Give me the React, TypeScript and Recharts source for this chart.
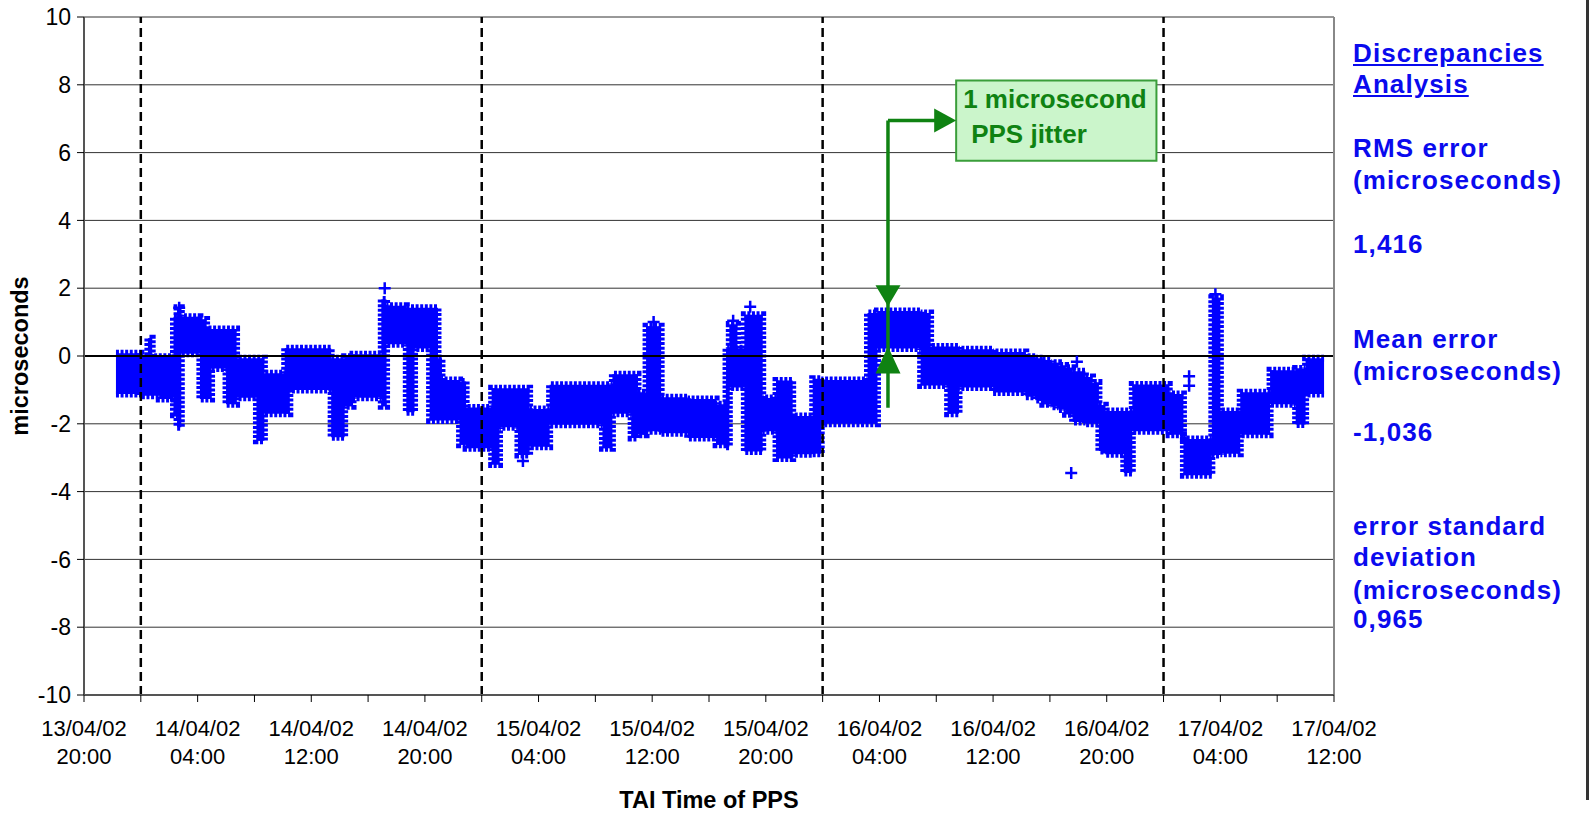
import React from 'react';
import {
  ComposedChart,
  Area,
  Scatter,
  XAxis,
  YAxis,
  CartesianGrid,
  ReferenceLine,
  ReferenceArea,
  ReferenceDot,
} from 'recharts';

const FONT = '"Liberation Sans", Arial, sans-serif';
const BLUE = '#0000ff';
const GREEN = '#0f8212';
const TEXT_BLUE = '#0a0aee';

// hours after 13/04/02 20:00, stepped band of the scatter cloud
const bandTimes = [
  2.25, 4.0, 4.5, 4.8, 5.3, 6.2, 6.3, 6.55, 6.85, 8.16, 8.63, 8.98, 10.0, 10.74, 12.14, 12.7,
  14.13, 14.49, 17.4, 18.35, 18.94, 20.93, 21.3, 22.69, 23.27, 24.33, 24.92, 25.2, 26.44, 26.9,
  28.7, 29.25, 30.55, 31.37, 32.78, 36.5, 37.2, 38.52, 39.0, 39.57, 40.63, 42.5, 44.5, 45.2,
  45.43, 46.0, 46.49, 47.78, 48.72, 49.89, 51.3, 51.9, 55.16, 55.86, 58.9, 59.6, 60.8, 61.6,
  64.0, 66.3, 67.0, 67.5, 68.1, 68.6, 69.1, 69.6, 70.5, 71.0, 71.45, 71.9, 73.2, 73.8, 76.4,
  77.4, 79.4, 80.0, 81.4, 83.5, 85.3, 86.0, 87.3,
];
const bandLows = [
  -1.12, -1.17, -1.17, -1.17, -1.27, -1.17, -1.73, -2.1, 0.07, -1.27, -1.27, -0.37, -1.42, -1.23, -2.5, -1.7,
  -1.7, -1.0, -2.4, -1.48, -1.23, -1.48, 0.35, -1.66, 0.22, -1.9, -1.9, -1.9, -2.62, -2.72,
  -3.2, -2.1, -2.92, -2.68, -2.03, -2.72, -1.7, -2.42, -2.32, -2.22, -2.28, -2.42, -2.62, -2.68,
  -0.93, -0.93, -2.82, -2.22, -3.02, -2.9, -2.88, -2.0, -2.0, 0.22, -0.87, -0.87, -1.7, -0.93,
  -1.08, -1.2, -1.3, -1.42, -1.5, -1.58, -1.72, -1.95, -2.0, -2.0, -2.8, -2.9, -3.45, -2.22, -2.32,
  -3.52, -2.92, -2.88, -2.32, -1.42, -2.02, -1.12, -1.12,
];
const bandHighs = [
  0.08, -0.02, 0.52, -0.02, -0.02, -0.02, 1.16, 1.42, 1.16, 1.08, 0.8, 0.8, 0.8, -0.07, -0.07, -0.51,
  0.23, 0.23, -0.07, -0.02, 0.05, 1.67, 1.48, 1.42, 1.42, 1.42, -0.07, -0.71, -0.75, -1.52,
  -0.95, -0.95, -0.95, -1.56, -0.85, -0.85, -0.54, -0.54, -1.07, 0.88, -1.22, -1.27, -1.42, 0.23,
  0.93, 0.23, 1.22, -1.24, -0.72, -1.77, -0.67, -0.71, 1.27, 1.33, 1.27, 0.28, 0.28, 0.2,
  0.12, -0.02, -0.07, -0.12, -0.2, -0.28, -0.35, -0.45, -0.62, -0.78, -1.45, -1.62, -1.62, -0.84, -1.12,
  -2.45, 1.72, -1.62, -1.07, -0.42, -0.37, -0.07, -0.07,
];

// isolated points standing out of the cloud
const outlierTimes = [6.7, 21.17, 30.9, 40.1, 45.7, 46.9, 69.5, 69.9, 77.8, 77.8, 79.65];
const outlierValues = [1.42, 2.0, -3.1, 1.0, 1.04, 1.45, -3.45, -0.17, -0.6, -0.88, 1.82];

const xTicks = [0, 4, 8, 12, 16, 20, 24, 28, 32, 36, 40, 44, 48, 52, 56, 60, 64, 68, 72, 76, 80, 84, 88];
const xDateLabels = [
  '13/04/02', '14/04/02', '14/04/02', '14/04/02', '15/04/02', '15/04/02',
  '15/04/02', '16/04/02', '16/04/02', '16/04/02', '17/04/02', '17/04/02',
];
const xTimeLabels = ['20:00', '04:00', '12:00', '20:00', '04:00', '12:00', '20:00', '04:00', '12:00', '20:00', '04:00', '12:00'];
const yTicks = [-10, -8, -6, -4, -2, 0, 2, 4, 6, 8, 10];
const dayBoundaries = [4, 28, 52, 76];

const bandData = bandTimes.map((t, i) => ({ t, range: [bandLows[i], bandHighs[i]] }));
const outlierData = outlierTimes.map((t, i) => ({ t, v: outlierValues[i] }));

function TimeTick({ x, y, payload }: any) {
  const v = payload.value;
  if (v % 8 !== 0) return null;
  const i = v / 8;
  return (
    <g>
      <text x={x} y={y} dy={32} textAnchor="middle" fontSize={22} fontFamily={FONT} fill="#000">
        {xDateLabels[i]}
      </text>
      <text x={x} y={y} dy={60} textAnchor="middle" fontSize={22} fontFamily={FONT} fill="#000">
        {xTimeLabels[i]}
      </text>
    </g>
  );
}

const Plus = ({ cx, cy }: any) => (
  <path d={`M${cx - 6},${cy}h12M${cx},${cy - 6}v12`} stroke={BLUE} strokeWidth={2.5} fill="none" />
);

const BoxLabel = ({ viewBox }: any) => {
  if (!viewBox) return null;
  const { x, y } = viewBox;
  return (
    <g fontFamily={FONT} fontSize={26} fontWeight="bold" fill={GREEN}>
      <text x={x + 7} y={y + 28}>1 microsecond</text>
      <text x={x + 15} y={y + 63}>PPS jitter</text>
    </g>
  );
};

const HeadRight = ({ cx, cy }: any) => (
  <polygon points={`${cx},${cy} ${cx - 22},${cy - 12} ${cx - 22},${cy + 12}`} fill={GREEN} />
);
const HeadDown = ({ cx, cy }: any) => (
  <polygon points={`${cx},${cy} ${cx - 12.5},${cy - 21} ${cx + 12.5},${cy - 21}`} fill={GREEN} />
);
const HeadUp = ({ cx, cy }: any) => (
  <polygon points={`${cx},${cy} ${cx - 12.5},${cy + 27} ${cx + 12.5},${cy + 27}`} fill={GREEN} />
);

const YTitle = ({ viewBox }: any) => {
  const cy = viewBox.y + viewBox.height / 2;
  return (
    <text
      x={viewBox.x + 20}
      y={cy}
      transform={`rotate(-90, ${viewBox.x + 20}, ${cy})`}
      textAnchor="middle"
      dominantBaseline="central"
      fontSize={23.5}
      fontWeight="bold"
      fontFamily={FONT}
      fill="#000"
    >
      microseconds
    </text>
  );
};

const XTitle = ({ viewBox }: any) => (
  <text
    x={viewBox.x + viewBox.width / 2}
    y={viewBox.y + 113}
    textAnchor="middle"
    fontSize={23.5}
    fontWeight="bold"
    fontFamily={FONT}
    fill="#000"
  >
    TAI Time of PPS
  </text>
);

const panelLine = (text: string, center: number, underline = false) => (
  <div
    key={text + center}
    style={{
      position: 'absolute',
      left: 1353,
      top: center - 15,
      lineHeight: '30px',
      fontSize: 26,
      fontWeight: 'bold',
      letterSpacing: 1.1,
      color: TEXT_BLUE,
      textDecoration: underline ? 'underline' : 'none',
      whiteSpace: 'nowrap',
    }}
  >
    {text}
  </div>
);

export default function App() {
  return (
    <div
      style={{
        position: 'absolute',
        left: 0,
        top: 0,
        width: 1590,
        height: 813,
        background: '#fff',
        fontFamily: FONT,
        overflow: 'hidden',
      }}
    >
      <ComposedChart
        width={1590}
        height={813}
        data={bandData}
        margin={{ top: 17, right: 256, bottom: 0, left: 0 }}
      >
        <CartesianGrid vertical={false} stroke="#333" strokeWidth={1} />
        <XAxis
          type="number"
          dataKey="t"
          domain={[0, 88]}
          ticks={xTicks}
          interval={0}
          height={118}
          tickSize={7}
          tick={<TimeTick />}
          stroke="#555"
          strokeWidth={2}
          tickLine={{ stroke: '#000', strokeWidth: 1 }}
          label={{ content: XTitle } as any}
        />
        <YAxis
          type="number"
          domain={[-10, 10]}
          ticks={yTicks}
          interval={0}
          width={84}
          tickSize={7}
          tickMargin={6}
          stroke="#555"
          strokeWidth={2}
          tickLine={{ stroke: '#000', strokeWidth: 1 }}
          tick={{ fontSize: 23, fill: '#000', fontFamily: FONT }}
          label={{ content: YTitle } as any}
        />
        <Area
          type="stepAfter"
          dataKey="range"
          fill={BLUE}
          fillOpacity={1}
          stroke={BLUE}
          strokeWidth={7}
          strokeDasharray="3 1.6"
          isAnimationActive={false}
          dot={false}
          activeDot={false}
        />
        <Scatter data={outlierData} dataKey="v" shape={<Plus />} isAnimationActive={false} />
        <ReferenceLine y={0} stroke="#000" strokeWidth={2} />
        <ReferenceLine x={88} stroke="#888" strokeWidth={2} />
        {dayBoundaries.map((d) => (
          <ReferenceLine key={d} x={d} stroke="#000" strokeWidth={2.5} strokeDasharray="9 5" />
        ))}
        <ReferenceArea
          x1={61.4}
          x2={75.5}
          y1={5.76}
          y2={8.13}
          fill="#cbf5cb"
          fillOpacity={1}
          stroke="#3a9e3a"
          strokeWidth={2}
          label={<BoxLabel />}
        />
        <ReferenceLine
          segment={[{ x: 56.6, y: 6.95 }, { x: 56.6, y: -1.53 }]}
          stroke={GREEN}
          strokeWidth={3.5}
        />
        <ReferenceLine
          segment={[{ x: 56.6, y: 6.95 }, { x: 60, y: 6.95 }]}
          stroke={GREEN}
          strokeWidth={3.5}
        />
        <ReferenceDot x={61.4} y={6.95} r={1} shape={<HeadRight />} />
        <ReferenceDot x={56.6} y={1.47} r={1} shape={<HeadDown />} />
        <ReferenceDot x={56.6} y={0.28} r={1} shape={<HeadUp />} />
      </ComposedChart>

      {panelLine('Discrepancies', 53, true)}
      {panelLine('Analysis', 84, true)}
      {panelLine('RMS error', 148)}
      {panelLine('(microseconds)', 180)}
      {panelLine('1,416', 244)}
      {panelLine('Mean error', 339)}
      {panelLine('(microseconds)', 371)}
      {panelLine('-1,036', 432)}
      {panelLine('error standard', 526)}
      {panelLine('deviation', 557)}
      {panelLine('(microseconds)', 590)}
      {panelLine('0,965', 619)}
      <div style={{ position: 'absolute', left: 1586, top: 0, width: 3, height: 800, background: '#333' }} />
    </div>
  );
}
